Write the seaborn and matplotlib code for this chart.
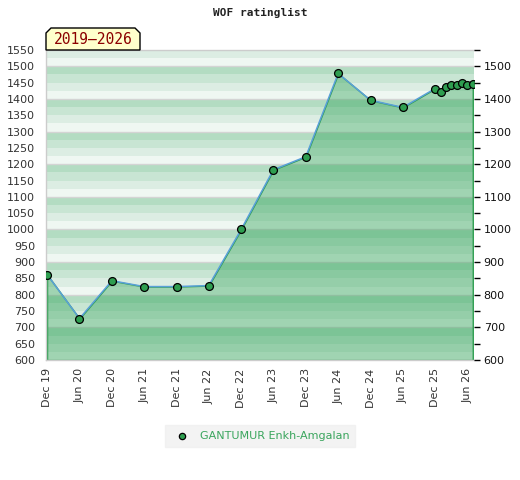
import pandas as pd
import matplotlib
matplotlib.use('Agg')
import matplotlib.pyplot as plt
import matplotlib.dates as mdates
from matplotlib.patches import Polygon
import seaborn as sns

# rating history
dates = ['2019-12-01', '2020-06-01', '2020-12-01', '2021-06-01', '2021-12-01',
         '2022-06-01', '2022-12-01', '2023-06-01', '2023-12-01', '2024-06-01',
         '2024-12-01', '2025-06-01', '2025-12-01', '2026-01-01', '2026-02-01',
         '2026-03-01', '2026-04-01', '2026-05-01', '2026-06-01', '2026-07-01']
ratings = [862, 727, 843, 825, 825, 828, 1000, 1183, 1223, 1478,
           1396, 1374, 1432, 1422, 1437, 1442, 1442, 1450, 1442, 1447]
player = 'GANTUMUR Enkh-Amgalan'
period = '2019\u20132026'
xtick_dates = pd.date_range('2019-12-01', '2026-06-01', freq='6MS')
left_ticks = list(range(600, 1551, 50))
right_ticks = list(range(600, 1501, 100))

df = pd.DataFrame({'date': pd.to_datetime(dates), 'rating': ratings})

sns.set_style('white')
plt.rcParams['font.family'] = ['DejaVu Sans']

fig = plt.figure(figsize=(5.2, 4.8), dpi=100)
ax = fig.add_axes([46 / 520, 120 / 480, 428 / 520, 310 / 480])

ymin, ymax = 600, 1550
# striped background, 4 stripes per 100
stripe_cols = ['#eff7f2', '#dcede3', '#c8e5d3', '#b3dcc2']
y = ymin
while y < ymax:
    ax.axhspan(y, y + 25, color=stripe_cols[(y // 25) % 4], lw=0, zorder=0)
    y += 25
for g in range(700, 1551, 100):
    ax.axhline(g, color='#d4d4d4', lw=1, zorder=0.5)

ax.fill_between(df['date'], df['rating'], ymin, facecolor=(0.17, 0.63, 0.33, 0.4),
                edgecolor='#2e9e50', lw=1, zorder=1)
sns.lineplot(data=df, x='date', y='rating', ax=ax, color='#5aa0d8', lw=1.1, zorder=2)
sns.scatterplot(data=df, x='date', y='rating', ax=ax, color='#2e9e50', edgecolor='black',
                linewidth=0.9, s=32, zorder=3, label=player)

ax.set_xlim(pd.Timestamp('2019-11-25'), pd.Timestamp('2026-07-08'))
ax.set_ylim(ymin, ymax)
ax.set_xlabel('')
ax.set_ylabel('')

ax.set_xticks(xtick_dates)
ax.xaxis.set_major_formatter(mdates.DateFormatter('%b %y'))
ax.tick_params(axis='x', length=0, pad=6, labelsize=8, labelcolor='#333333', rotation=90)
ax.set_yticks(left_ticks)
ax.tick_params(axis='y', length=0, pad=8, labelsize=8, labelcolor='#333333')

for s in ['left', 'bottom', 'top']:
    ax.spines[s].set_color('#cccccc')
    ax.spines[s].set_linewidth(1)
ax.spines['right'].set_visible(False)

ax2 = ax.twinx()
ax2.set_ylim(ymin, ymax)
ax2.set_yticks(right_ticks)
ax2.set_yticks([t + 50 for t in right_ticks], minor=True)
ax2.tick_params(axis='y', which='both', length=4, width=1, color='black',
                labelsize=8, labelcolor='#111111', pad=3)
for s in ax2.spines.values():
    s.set_visible(False)

leg = ax.legend(loc='center', bbox_to_anchor=(0.5, -0.245), frameon=True,
                facecolor='#f0f0f0', edgecolor='#f0f0f0', fancybox=False,
                fontsize=8, markerscale=0.8, handletextpad=0.6, borderpad=0.5)
for t in leg.get_texts():
    t.set_color('#3aa55d')

fig.text(0.5, 1 - 13 / 480, 'WOF ratinglist', ha='center', va='center',
         family='DejaVu Sans Mono', weight='bold', fontsize=8, color='#222222')

# period tag above the plot
px = [46, 46, 51, 135, 140, 140]
py = [50, 33, 28, 28, 33, 50]
tag = Polygon([(a / 520, 1 - b / 480) for a, b in zip(px, py)], closed=True,
              transform=fig.transFigure, facecolor='#ffffcc', edgecolor='black', lw=1)
fig.patches.append(tag)
fig.text(93 / 520, 1 - 40 / 480, period, ha='center', va='center',
         family='DejaVu Sans Mono', fontsize=10.5, color='#8b0000')

fig.savefig('out.png', dpi=100)
